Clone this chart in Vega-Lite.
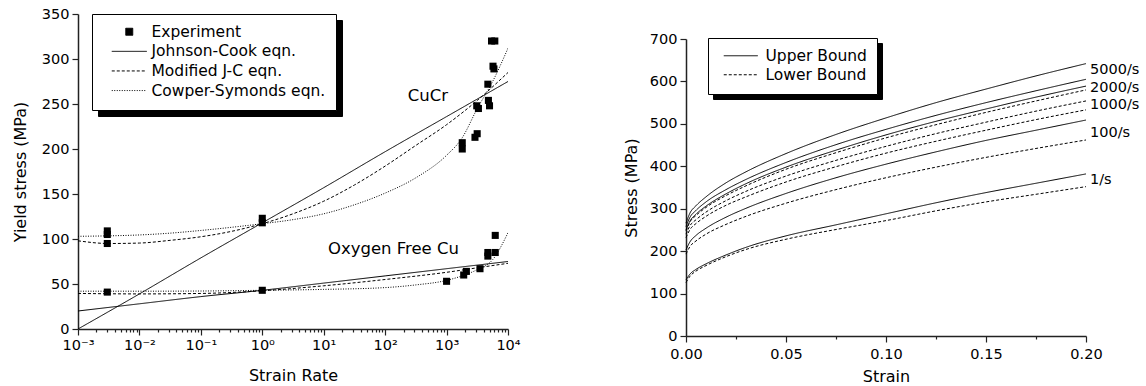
{
  "$schema": "https://vega.github.io/schema/vega-lite/v6.json",
  "background": "white",
  "padding": {"left": 12, "top": 6, "right": 5, "bottom": 5},
  "spacing": 102,
  "resolve": {"scale": {"strokeDash": "independent", "color": "independent"}, "legend": {"strokeDash": "independent", "color": "independent"}},
  "config": {
    "view": {"stroke": null},
    "axis": {"domainColor": "#222", "domainWidth": 1.5, "tickColor": "#222", "tickWidth": 1.2, "labelFont": "DejaVu Sans", "labelFontSize": 14.5, "labelColor": "black", "titleFont": "DejaVu Sans", "titleFontSize": 16, "titleFontWeight": "normal", "titleColor": "black", "grid": false, "labelPadding": 3, "labelOverlap": false, "labelFlush": false, "labelBound": false},
    "legend": {"labelFont": "DejaVu Sans", "labelFontSize": 15.5, "labelColor": "black", "labelLimit": 400, "strokeColor": "black", "fillColor": "white", "padding": 10, "rowPadding": 2.6, "symbolStrokeColor": "black", "symbolStrokeWidth": 1},
    "text": {"font": "DejaVu Sans", "color": "black"}
  },
  "datasets": {
    "cu_lines": [
      {"material": "CuCr", "model": "Johnson-Cook eqn.", "rate": 0.001, "stress": 0},
      {"material": "CuCr", "model": "Johnson-Cook eqn.", "rate": 0.01, "stress": 39},
      {"material": "CuCr", "model": "Johnson-Cook eqn.", "rate": 0.1, "stress": 79},
      {"material": "CuCr", "model": "Johnson-Cook eqn.", "rate": 1, "stress": 118},
      {"material": "CuCr", "model": "Johnson-Cook eqn.", "rate": 10, "stress": 157},
      {"material": "CuCr", "model": "Johnson-Cook eqn.", "rate": 100, "stress": 197},
      {"material": "CuCr", "model": "Johnson-Cook eqn.", "rate": 1000, "stress": 236},
      {"material": "CuCr", "model": "Johnson-Cook eqn.", "rate": 10000, "stress": 275},
      {"material": "OFC", "model": "Johnson-Cook eqn.", "rate": 0.001, "stress": 20},
      {"material": "OFC", "model": "Johnson-Cook eqn.", "rate": 0.01, "stress": 28},
      {"material": "OFC", "model": "Johnson-Cook eqn.", "rate": 0.1, "stress": 36},
      {"material": "OFC", "model": "Johnson-Cook eqn.", "rate": 1, "stress": 43},
      {"material": "OFC", "model": "Johnson-Cook eqn.", "rate": 10, "stress": 51},
      {"material": "OFC", "model": "Johnson-Cook eqn.", "rate": 100, "stress": 59},
      {"material": "OFC", "model": "Johnson-Cook eqn.", "rate": 1000, "stress": 67},
      {"material": "OFC", "model": "Johnson-Cook eqn.", "rate": 10000, "stress": 75},
      {"material": "CuCr", "model": "Modified J-C eqn.", "rate": 0.001, "stress": 98},
      {"material": "CuCr", "model": "Modified J-C eqn.", "rate": 0.00316, "stress": 95},
      {"material": "CuCr", "model": "Modified J-C eqn.", "rate": 0.01, "stress": 95.5},
      {"material": "CuCr", "model": "Modified J-C eqn.", "rate": 0.0316, "stress": 98.5},
      {"material": "CuCr", "model": "Modified J-C eqn.", "rate": 0.1, "stress": 102.5},
      {"material": "CuCr", "model": "Modified J-C eqn.", "rate": 0.316, "stress": 108.5},
      {"material": "CuCr", "model": "Modified J-C eqn.", "rate": 1, "stress": 117},
      {"material": "CuCr", "model": "Modified J-C eqn.", "rate": 3.16, "stress": 128},
      {"material": "CuCr", "model": "Modified J-C eqn.", "rate": 10, "stress": 142},
      {"material": "CuCr", "model": "Modified J-C eqn.", "rate": 31.6, "stress": 160},
      {"material": "CuCr", "model": "Modified J-C eqn.", "rate": 100, "stress": 181},
      {"material": "CuCr", "model": "Modified J-C eqn.", "rate": 316, "stress": 204},
      {"material": "CuCr", "model": "Modified J-C eqn.", "rate": 1000, "stress": 227},
      {"material": "CuCr", "model": "Modified J-C eqn.", "rate": 3162, "stress": 254},
      {"material": "CuCr", "model": "Modified J-C eqn.", "rate": 10000, "stress": 285},
      {"material": "OFC", "model": "Modified J-C eqn.", "rate": 0.001, "stress": 39.5},
      {"material": "OFC", "model": "Modified J-C eqn.", "rate": 0.01, "stress": 39},
      {"material": "OFC", "model": "Modified J-C eqn.", "rate": 0.1, "stress": 39.5},
      {"material": "OFC", "model": "Modified J-C eqn.", "rate": 1, "stress": 42.5},
      {"material": "OFC", "model": "Modified J-C eqn.", "rate": 10, "stress": 48},
      {"material": "OFC", "model": "Modified J-C eqn.", "rate": 100, "stress": 55},
      {"material": "OFC", "model": "Modified J-C eqn.", "rate": 1000, "stress": 63},
      {"material": "OFC", "model": "Modified J-C eqn.", "rate": 3162, "stress": 68},
      {"material": "OFC", "model": "Modified J-C eqn.", "rate": 10000, "stress": 73},
      {"material": "CuCr", "model": "Cowper-Symonds eqn.", "rate": 0.001, "stress": 103},
      {"material": "CuCr", "model": "Cowper-Symonds eqn.", "rate": 0.00316, "stress": 103.5},
      {"material": "CuCr", "model": "Cowper-Symonds eqn.", "rate": 0.01, "stress": 104.5},
      {"material": "CuCr", "model": "Cowper-Symonds eqn.", "rate": 0.0316, "stress": 106.5},
      {"material": "CuCr", "model": "Cowper-Symonds eqn.", "rate": 0.1, "stress": 109.5},
      {"material": "CuCr", "model": "Cowper-Symonds eqn.", "rate": 0.316, "stress": 113},
      {"material": "CuCr", "model": "Cowper-Symonds eqn.", "rate": 1, "stress": 117},
      {"material": "CuCr", "model": "Cowper-Symonds eqn.", "rate": 3.16, "stress": 121.5},
      {"material": "CuCr", "model": "Cowper-Symonds eqn.", "rate": 10, "stress": 128},
      {"material": "CuCr", "model": "Cowper-Symonds eqn.", "rate": 31.6, "stress": 138},
      {"material": "CuCr", "model": "Cowper-Symonds eqn.", "rate": 100, "stress": 151},
      {"material": "CuCr", "model": "Cowper-Symonds eqn.", "rate": 316, "stress": 168},
      {"material": "CuCr", "model": "Cowper-Symonds eqn.", "rate": 1000, "stress": 193},
      {"material": "CuCr", "model": "Cowper-Symonds eqn.", "rate": 1778, "stress": 212},
      {"material": "CuCr", "model": "Cowper-Symonds eqn.", "rate": 3162, "stress": 245},
      {"material": "CuCr", "model": "Cowper-Symonds eqn.", "rate": 5623, "stress": 275},
      {"material": "CuCr", "model": "Cowper-Symonds eqn.", "rate": 10000, "stress": 312},
      {"material": "OFC", "model": "Cowper-Symonds eqn.", "rate": 0.001, "stress": 42},
      {"material": "OFC", "model": "Cowper-Symonds eqn.", "rate": 0.01, "stress": 42},
      {"material": "OFC", "model": "Cowper-Symonds eqn.", "rate": 0.1, "stress": 42.2},
      {"material": "OFC", "model": "Cowper-Symonds eqn.", "rate": 1, "stress": 43},
      {"material": "OFC", "model": "Cowper-Symonds eqn.", "rate": 10, "stress": 44},
      {"material": "OFC", "model": "Cowper-Symonds eqn.", "rate": 100, "stress": 46},
      {"material": "OFC", "model": "Cowper-Symonds eqn.", "rate": 316, "stress": 49},
      {"material": "OFC", "model": "Cowper-Symonds eqn.", "rate": 1000, "stress": 54},
      {"material": "OFC", "model": "Cowper-Symonds eqn.", "rate": 1778, "stress": 59},
      {"material": "OFC", "model": "Cowper-Symonds eqn.", "rate": 3162, "stress": 66},
      {"material": "OFC", "model": "Cowper-Symonds eqn.", "rate": 5623, "stress": 77},
      {"material": "OFC", "model": "Cowper-Symonds eqn.", "rate": 10000, "stress": 107}
    ],
    "cu_points": [
      {"material": "CuCr", "model": "Experiment", "rate": 0.003, "stress": 109},
      {"material": "CuCr", "model": "Experiment", "rate": 0.003, "stress": 105},
      {"material": "CuCr", "model": "Experiment", "rate": 0.003, "stress": 95},
      {"material": "CuCr", "model": "Experiment", "rate": 1, "stress": 123},
      {"material": "CuCr", "model": "Experiment", "rate": 1, "stress": 118},
      {"material": "CuCr", "model": "Experiment", "rate": 1800, "stress": 200},
      {"material": "CuCr", "model": "Experiment", "rate": 1800, "stress": 207},
      {"material": "CuCr", "model": "Experiment", "rate": 2900, "stress": 213},
      {"material": "CuCr", "model": "Experiment", "rate": 3150, "stress": 217},
      {"material": "CuCr", "model": "Experiment", "rate": 3100, "stress": 248},
      {"material": "CuCr", "model": "Experiment", "rate": 3300, "stress": 245},
      {"material": "CuCr", "model": "Experiment", "rate": 4800, "stress": 254},
      {"material": "CuCr", "model": "Experiment", "rate": 5000, "stress": 248},
      {"material": "CuCr", "model": "Experiment", "rate": 4700, "stress": 272},
      {"material": "CuCr", "model": "Experiment", "rate": 5700, "stress": 292},
      {"material": "CuCr", "model": "Experiment", "rate": 5900, "stress": 289},
      {"material": "CuCr", "model": "Experiment", "rate": 5400, "stress": 320},
      {"material": "CuCr", "model": "Experiment", "rate": 6100, "stress": 320},
      {"material": "OFC", "model": "Experiment", "rate": 0.003, "stress": 41},
      {"material": "OFC", "model": "Experiment", "rate": 1, "stress": 43},
      {"material": "OFC", "model": "Experiment", "rate": 1000, "stress": 53},
      {"material": "OFC", "model": "Experiment", "rate": 1900, "stress": 60},
      {"material": "OFC", "model": "Experiment", "rate": 2100, "stress": 64},
      {"material": "OFC", "model": "Experiment", "rate": 3500, "stress": 67},
      {"material": "OFC", "model": "Experiment", "rate": 4700, "stress": 81},
      {"material": "OFC", "model": "Experiment", "rate": 4700, "stress": 85},
      {"material": "OFC", "model": "Experiment", "rate": 6200, "stress": 85},
      {"material": "OFC", "model": "Experiment", "rate": 6200, "stress": 104}
    ],
    "cu_labels": [
      {"rate": 234, "stress": 259, "label": "CuCr"},
      {"rate": 11.7, "stress": 89, "label": "Oxygen Free Cu"}
    ],
    "curves": [
      {"rate": "5000/s", "bound": "Upper Bound", "strain": 0, "stress": 266},
      {"rate": "5000/s", "bound": "Upper Bound", "strain": 0.002, "stress": 290},
      {"rate": "5000/s", "bound": "Upper Bound", "strain": 0.005, "stress": 307},
      {"rate": "5000/s", "bound": "Upper Bound", "strain": 0.01, "stress": 328},
      {"rate": "5000/s", "bound": "Upper Bound", "strain": 0.02, "stress": 361},
      {"rate": "5000/s", "bound": "Upper Bound", "strain": 0.03, "stress": 387},
      {"rate": "5000/s", "bound": "Upper Bound", "strain": 0.05, "stress": 430},
      {"rate": "5000/s", "bound": "Upper Bound", "strain": 0.075, "stress": 475},
      {"rate": "5000/s", "bound": "Upper Bound", "strain": 0.1, "stress": 514},
      {"rate": "5000/s", "bound": "Upper Bound", "strain": 0.125, "stress": 550},
      {"rate": "5000/s", "bound": "Upper Bound", "strain": 0.15, "stress": 582},
      {"rate": "5000/s", "bound": "Upper Bound", "strain": 0.175, "stress": 613},
      {"rate": "5000/s", "bound": "Upper Bound", "strain": 0.2, "stress": 642},
      {"rate": "2000/s", "bound": "Upper Bound", "strain": 0, "stress": 258},
      {"rate": "2000/s", "bound": "Upper Bound", "strain": 0.002, "stress": 280},
      {"rate": "2000/s", "bound": "Upper Bound", "strain": 0.005, "stress": 296},
      {"rate": "2000/s", "bound": "Upper Bound", "strain": 0.01, "stress": 316},
      {"rate": "2000/s", "bound": "Upper Bound", "strain": 0.02, "stress": 345},
      {"rate": "2000/s", "bound": "Upper Bound", "strain": 0.03, "stress": 369},
      {"rate": "2000/s", "bound": "Upper Bound", "strain": 0.05, "stress": 409},
      {"rate": "2000/s", "bound": "Upper Bound", "strain": 0.075, "stress": 451},
      {"rate": "2000/s", "bound": "Upper Bound", "strain": 0.1, "stress": 487},
      {"rate": "2000/s", "bound": "Upper Bound", "strain": 0.125, "stress": 520},
      {"rate": "2000/s", "bound": "Upper Bound", "strain": 0.15, "stress": 550},
      {"rate": "2000/s", "bound": "Upper Bound", "strain": 0.175, "stress": 578},
      {"rate": "2000/s", "bound": "Upper Bound", "strain": 0.2, "stress": 605},
      {"rate": "1000/s", "bound": "Upper Bound", "strain": 0, "stress": 250},
      {"rate": "1000/s", "bound": "Upper Bound", "strain": 0.002, "stress": 271},
      {"rate": "1000/s", "bound": "Upper Bound", "strain": 0.005, "stress": 287},
      {"rate": "1000/s", "bound": "Upper Bound", "strain": 0.01, "stress": 306},
      {"rate": "1000/s", "bound": "Upper Bound", "strain": 0.02, "stress": 335},
      {"rate": "1000/s", "bound": "Upper Bound", "strain": 0.03, "stress": 359},
      {"rate": "1000/s", "bound": "Upper Bound", "strain": 0.05, "stress": 398},
      {"rate": "1000/s", "bound": "Upper Bound", "strain": 0.075, "stress": 438},
      {"rate": "1000/s", "bound": "Upper Bound", "strain": 0.1, "stress": 474},
      {"rate": "1000/s", "bound": "Upper Bound", "strain": 0.125, "stress": 506},
      {"rate": "1000/s", "bound": "Upper Bound", "strain": 0.15, "stress": 535},
      {"rate": "1000/s", "bound": "Upper Bound", "strain": 0.175, "stress": 563},
      {"rate": "1000/s", "bound": "Upper Bound", "strain": 0.2, "stress": 589},
      {"rate": "100/s", "bound": "Upper Bound", "strain": 0, "stress": 203},
      {"rate": "100/s", "bound": "Upper Bound", "strain": 0.002, "stress": 222},
      {"rate": "100/s", "bound": "Upper Bound", "strain": 0.005, "stress": 237},
      {"rate": "100/s", "bound": "Upper Bound", "strain": 0.01, "stress": 254},
      {"rate": "100/s", "bound": "Upper Bound", "strain": 0.02, "stress": 280},
      {"rate": "100/s", "bound": "Upper Bound", "strain": 0.03, "stress": 301},
      {"rate": "100/s", "bound": "Upper Bound", "strain": 0.05, "stress": 336},
      {"rate": "100/s", "bound": "Upper Bound", "strain": 0.075, "stress": 373},
      {"rate": "100/s", "bound": "Upper Bound", "strain": 0.1, "stress": 405},
      {"rate": "100/s", "bound": "Upper Bound", "strain": 0.125, "stress": 434},
      {"rate": "100/s", "bound": "Upper Bound", "strain": 0.15, "stress": 461},
      {"rate": "100/s", "bound": "Upper Bound", "strain": 0.175, "stress": 485},
      {"rate": "100/s", "bound": "Upper Bound", "strain": 0.2, "stress": 509},
      {"rate": "1/s", "bound": "Upper Bound", "strain": 0, "stress": 132},
      {"rate": "1/s", "bound": "Upper Bound", "strain": 0.002, "stress": 146},
      {"rate": "1/s", "bound": "Upper Bound", "strain": 0.005, "stress": 157},
      {"rate": "1/s", "bound": "Upper Bound", "strain": 0.01, "stress": 170},
      {"rate": "1/s", "bound": "Upper Bound", "strain": 0.02, "stress": 191},
      {"rate": "1/s", "bound": "Upper Bound", "strain": 0.03, "stress": 209},
      {"rate": "1/s", "bound": "Upper Bound", "strain": 0.05, "stress": 236},
      {"rate": "1/s", "bound": "Upper Bound", "strain": 0.075, "stress": 262},
      {"rate": "1/s", "bound": "Upper Bound", "strain": 0.1, "stress": 288},
      {"rate": "1/s", "bound": "Upper Bound", "strain": 0.125, "stress": 314},
      {"rate": "1/s", "bound": "Upper Bound", "strain": 0.15, "stress": 338},
      {"rate": "1/s", "bound": "Upper Bound", "strain": 0.175, "stress": 360},
      {"rate": "1/s", "bound": "Upper Bound", "strain": 0.2, "stress": 382},
      {"rate": "5000/s", "bound": "Lower Bound", "strain": 0, "stress": 248},
      {"rate": "5000/s", "bound": "Lower Bound", "strain": 0.002, "stress": 269},
      {"rate": "5000/s", "bound": "Lower Bound", "strain": 0.005, "stress": 284},
      {"rate": "5000/s", "bound": "Lower Bound", "strain": 0.01, "stress": 303},
      {"rate": "5000/s", "bound": "Lower Bound", "strain": 0.02, "stress": 331},
      {"rate": "5000/s", "bound": "Lower Bound", "strain": 0.03, "stress": 354},
      {"rate": "5000/s", "bound": "Lower Bound", "strain": 0.05, "stress": 393},
      {"rate": "5000/s", "bound": "Lower Bound", "strain": 0.075, "stress": 432},
      {"rate": "5000/s", "bound": "Lower Bound", "strain": 0.1, "stress": 467},
      {"rate": "5000/s", "bound": "Lower Bound", "strain": 0.125, "stress": 498},
      {"rate": "5000/s", "bound": "Lower Bound", "strain": 0.15, "stress": 527},
      {"rate": "5000/s", "bound": "Lower Bound", "strain": 0.175, "stress": 554},
      {"rate": "5000/s", "bound": "Lower Bound", "strain": 0.2, "stress": 580},
      {"rate": "2000/s", "bound": "Lower Bound", "strain": 0, "stress": 240},
      {"rate": "2000/s", "bound": "Lower Bound", "strain": 0.002, "stress": 260},
      {"rate": "2000/s", "bound": "Lower Bound", "strain": 0.005, "stress": 274},
      {"rate": "2000/s", "bound": "Lower Bound", "strain": 0.01, "stress": 292},
      {"rate": "2000/s", "bound": "Lower Bound", "strain": 0.02, "stress": 319},
      {"rate": "2000/s", "bound": "Lower Bound", "strain": 0.03, "stress": 341},
      {"rate": "2000/s", "bound": "Lower Bound", "strain": 0.05, "stress": 377},
      {"rate": "2000/s", "bound": "Lower Bound", "strain": 0.075, "stress": 414},
      {"rate": "2000/s", "bound": "Lower Bound", "strain": 0.1, "stress": 447},
      {"rate": "2000/s", "bound": "Lower Bound", "strain": 0.125, "stress": 477},
      {"rate": "2000/s", "bound": "Lower Bound", "strain": 0.15, "stress": 504},
      {"rate": "2000/s", "bound": "Lower Bound", "strain": 0.175, "stress": 530},
      {"rate": "2000/s", "bound": "Lower Bound", "strain": 0.2, "stress": 554},
      {"rate": "1000/s", "bound": "Lower Bound", "strain": 0, "stress": 232},
      {"rate": "1000/s", "bound": "Lower Bound", "strain": 0.002, "stress": 251},
      {"rate": "1000/s", "bound": "Lower Bound", "strain": 0.005, "stress": 265},
      {"rate": "1000/s", "bound": "Lower Bound", "strain": 0.01, "stress": 282},
      {"rate": "1000/s", "bound": "Lower Bound", "strain": 0.02, "stress": 308},
      {"rate": "1000/s", "bound": "Lower Bound", "strain": 0.03, "stress": 328},
      {"rate": "1000/s", "bound": "Lower Bound", "strain": 0.05, "stress": 363},
      {"rate": "1000/s", "bound": "Lower Bound", "strain": 0.075, "stress": 399},
      {"rate": "1000/s", "bound": "Lower Bound", "strain": 0.1, "stress": 431},
      {"rate": "1000/s", "bound": "Lower Bound", "strain": 0.125, "stress": 459},
      {"rate": "1000/s", "bound": "Lower Bound", "strain": 0.15, "stress": 485},
      {"rate": "1000/s", "bound": "Lower Bound", "strain": 0.175, "stress": 510},
      {"rate": "1000/s", "bound": "Lower Bound", "strain": 0.2, "stress": 533},
      {"rate": "100/s", "bound": "Lower Bound", "strain": 0, "stress": 193},
      {"rate": "100/s", "bound": "Lower Bound", "strain": 0.002, "stress": 211},
      {"rate": "100/s", "bound": "Lower Bound", "strain": 0.005, "stress": 224},
      {"rate": "100/s", "bound": "Lower Bound", "strain": 0.01, "stress": 240},
      {"rate": "100/s", "bound": "Lower Bound", "strain": 0.02, "stress": 263},
      {"rate": "100/s", "bound": "Lower Bound", "strain": 0.03, "stress": 282},
      {"rate": "100/s", "bound": "Lower Bound", "strain": 0.05, "stress": 313},
      {"rate": "100/s", "bound": "Lower Bound", "strain": 0.075, "stress": 345},
      {"rate": "100/s", "bound": "Lower Bound", "strain": 0.1, "stress": 373},
      {"rate": "100/s", "bound": "Lower Bound", "strain": 0.125, "stress": 398},
      {"rate": "100/s", "bound": "Lower Bound", "strain": 0.15, "stress": 421},
      {"rate": "100/s", "bound": "Lower Bound", "strain": 0.175, "stress": 442},
      {"rate": "100/s", "bound": "Lower Bound", "strain": 0.2, "stress": 462},
      {"rate": "1/s", "bound": "Lower Bound", "strain": 0, "stress": 126},
      {"rate": "1/s", "bound": "Lower Bound", "strain": 0.002, "stress": 141},
      {"rate": "1/s", "bound": "Lower Bound", "strain": 0.005, "stress": 153},
      {"rate": "1/s", "bound": "Lower Bound", "strain": 0.01, "stress": 166},
      {"rate": "1/s", "bound": "Lower Bound", "strain": 0.02, "stress": 187},
      {"rate": "1/s", "bound": "Lower Bound", "strain": 0.03, "stress": 204},
      {"rate": "1/s", "bound": "Lower Bound", "strain": 0.05, "stress": 228},
      {"rate": "1/s", "bound": "Lower Bound", "strain": 0.075, "stress": 251},
      {"rate": "1/s", "bound": "Lower Bound", "strain": 0.1, "stress": 272},
      {"rate": "1/s", "bound": "Lower Bound", "strain": 0.125, "stress": 295},
      {"rate": "1/s", "bound": "Lower Bound", "strain": 0.15, "stress": 316},
      {"rate": "1/s", "bound": "Lower Bound", "strain": 0.175, "stress": 334},
      {"rate": "1/s", "bound": "Lower Bound", "strain": 0.2, "stress": 352}
    ],
    "rate_labels": [
      {"strain": 0.2, "stress": 627, "label": "5000/s"},
      {"strain": 0.2, "stress": 584, "label": "2000/s"},
      {"strain": 0.2, "stress": 544, "label": "1000/s"},
      {"strain": 0.2, "stress": 478, "label": "100/s"},
      {"strain": 0.2, "stress": 368, "label": "1/s"}
    ],
    "nothing": []
  },
  "hconcat": [
    {
      "width": 430,
      "height": 315,
      "layer": [
        {
          "data": {"name": "cu_lines"},
          "mark": {"type": "line", "strokeWidth": 1, "interpolate": "monotone", "clip": true},
          "encoding": {
            "x": {"field": "rate", "type": "quantitative", "scale": {"type": "log", "domain": [0.001, 10000], "nice": false},
              "axis": {"title": "Strain Rate", "titlePadding": 16, "values": [0.001,0.002,0.003,0.004,0.005,0.006,0.007,0.008,0.009,0.01,0.02,0.03,0.04,0.05,0.06,0.07,0.08,0.09,0.1,0.2,0.3,0.4,0.5,0.6,0.7,0.8,0.9,1,2,3,4,5,6,7,8,9,10,20,30,40,50,60,70,80,90,100,200,300,400,500,600,700,800,900,1000,2000,3000,4000,5000,6000,7000,8000,9000,10000],
                "labelExpr": "datum.value == 0.001 ? '10⁻³' : datum.value == 0.01 ? '10⁻²' : datum.value == 0.1 ? '10⁻¹' : datum.value == 1 ? '10⁰' : datum.value == 10 ? '10¹' : datum.value == 100 ? '10²' : datum.value == 1000 ? '10³' : datum.value == 10000 ? '10⁴' : ''",
                "tickSize": {"condition": {"test": "indexof([0.001,0.01,0.1,1,10,100,1000,10000], datum.value) >= 0", "value": 6}, "value": 3}}},
            "y": {"field": "stress", "type": "quantitative", "scale": {"domain": [0, 350], "nice": false},
              "axis": {"title": "Yield stress (MPa)", "titlePadding": 13, "values": [0,25,50,75,100,125,150,175,200,225,250,275,300,325,350],
                "labelExpr": "datum.value % 50 == 0 ? datum.label : ''",
                "tickSize": {"condition": {"test": "datum.value % 50 == 0", "value": 6}, "value": 3}}},
            "strokeDash": {"field": "model", "type": "nominal",
              "scale": {"domain": ["Experiment", "Johnson-Cook eqn.", "Modified J-C eqn.", "Cowper-Symonds eqn."], "range": [[1, 0], [1, 0], [3, 2], [1, 1.5]]},
              "legend": {"title": null, "orient": "none", "legendX": 14, "legendY": 0, "zindex": 2, "symbolOffset": 19.5, "labelOffset": 14.5,
                "encode": {"symbols": {"update": {
                  "shape": {"signal": "datum.value === 'Experiment' ? 'square' : 'M-3.5,0H3.5'"},
                  "size": {"signal": "datum.value === 'Experiment' ? 49 : 100"},
                  "fill": {"signal": "datum.value === 'Experiment' ? 'black' : 'transparent'"},
                  "stroke": {"value": "black"},
                  "strokeWidth": {"value": 1}
                }}}}},
            "color": {"field": "model", "type": "nominal", "scale": {"range": ["black"]},
              "legend": {"title": null, "orient": "none", "legendX": 20, "legendY": 6, "zindex": 1, "symbolOffset": 19.5, "labelOffset": 14.5, "fillColor": "black", "strokeColor": "black", "labelColor": "black", "labelOpacity": 0, "symbolOpacity": 0,
                "encode": {"symbols": {"update": {
                  "shape": {"signal": "datum.value === 'Experiment' ? 'square' : 'M-3.5,0H3.5'"},
                  "size": {"signal": "datum.value === 'Experiment' ? 49 : 100"}
                }}}}},
            "detail": {"field": "material"}
          }
        },
        {
          "data": {"name": "cu_points"},
          "mark": {"type": "square", "size": 50, "filled": true, "opacity": 1},
          "encoding": {
            "x": {"field": "rate", "type": "quantitative"},
            "y": {"field": "stress", "type": "quantitative"},
            "color": {"field": "model", "type": "nominal"}
          }
        },
        {
          "data": {"name": "cu_labels"},
          "mark": {"type": "text", "align": "left", "baseline": "middle", "fontSize": 16.5},
          "encoding": {
            "x": {"field": "rate", "type": "quantitative"},
            "y": {"field": "stress", "type": "quantitative"},
            "text": {"field": "label"}
          }
        }
      ]
    },
    {
      "spacing": 13,
      "vconcat": [
        {
          "width": 400,
          "height": 4,
          "data": {"name": "nothing"},
          "mark": "point"
        },
        {
          "width": 400,
          "height": 297,
          "layer": [
            {
              "data": {"name": "curves"},
              "mark": {"type": "line", "strokeWidth": 1, "interpolate": "monotone"},
              "encoding": {
                "x": {"field": "strain", "type": "quantitative", "scale": {"domain": [0, 0.2], "nice": false},
                  "axis": {"title": "Strain", "titlePadding": 8, "labelPadding": 5, "values": [0,0.025,0.05,0.075,0.1,0.125,0.15,0.175,0.2],
                    "labelExpr": "round(datum.value * 40) % 2 == 0 ? format(datum.value, '.2f') : ''",
                    "tickSize": {"condition": {"test": "round(datum.value * 40) % 2 == 0", "value": 6}, "value": 3}}},
                "y": {"field": "stress", "type": "quantitative", "scale": {"domain": [0, 700], "nice": false},
                  "axis": {"title": "Stress (MPa)", "titlePadding": 10, "values": [0,50,100,150,200,250,300,350,400,450,500,550,600,650,700],
                    "labelExpr": "datum.value % 100 == 0 ? datum.label : ''",
                    "tickSize": {"condition": {"test": "datum.value % 100 == 0", "value": 6}, "value": 3}}},
                "strokeDash": {"field": "bound", "type": "nominal",
                  "scale": {"domain": ["Upper Bound", "Lower Bound"], "range": [[1, 0], [3, 2]]},
                  "legend": {"title": null, "orient": "none", "legendX": 22, "legendY": 24, "zindex": 2, "rowPadding": 2, "symbolSize": 100, "symbolType": "M-3.4,0H3.4", "symbolOffset": 15, "labelOffset": 17}},
                "color": {"field": "bound", "type": "nominal", "scale": {"range": ["black"]},
                  "legend": {"title": null, "orient": "none", "legendX": 27, "legendY": 29, "zindex": 1, "rowPadding": 2, "symbolSize": 100, "symbolType": "M-3.4,0H3.4", "symbolOffset": 15, "labelOffset": 17, "fillColor": "black", "strokeColor": "black", "labelColor": "black", "labelOpacity": 0, "symbolOpacity": 0}},
                "detail": {"field": "rate"}
              }
            },
            {
              "data": {"name": "rate_labels"},
              "mark": {"type": "text", "align": "left", "baseline": "middle", "fontSize": 14.5, "dx": 4},
              "encoding": {
                "x": {"field": "strain", "type": "quantitative"},
                "y": {"field": "stress", "type": "quantitative"},
                "text": {"field": "label"}
              }
            }
          ]
        }
      ]
    }
  ]
}
